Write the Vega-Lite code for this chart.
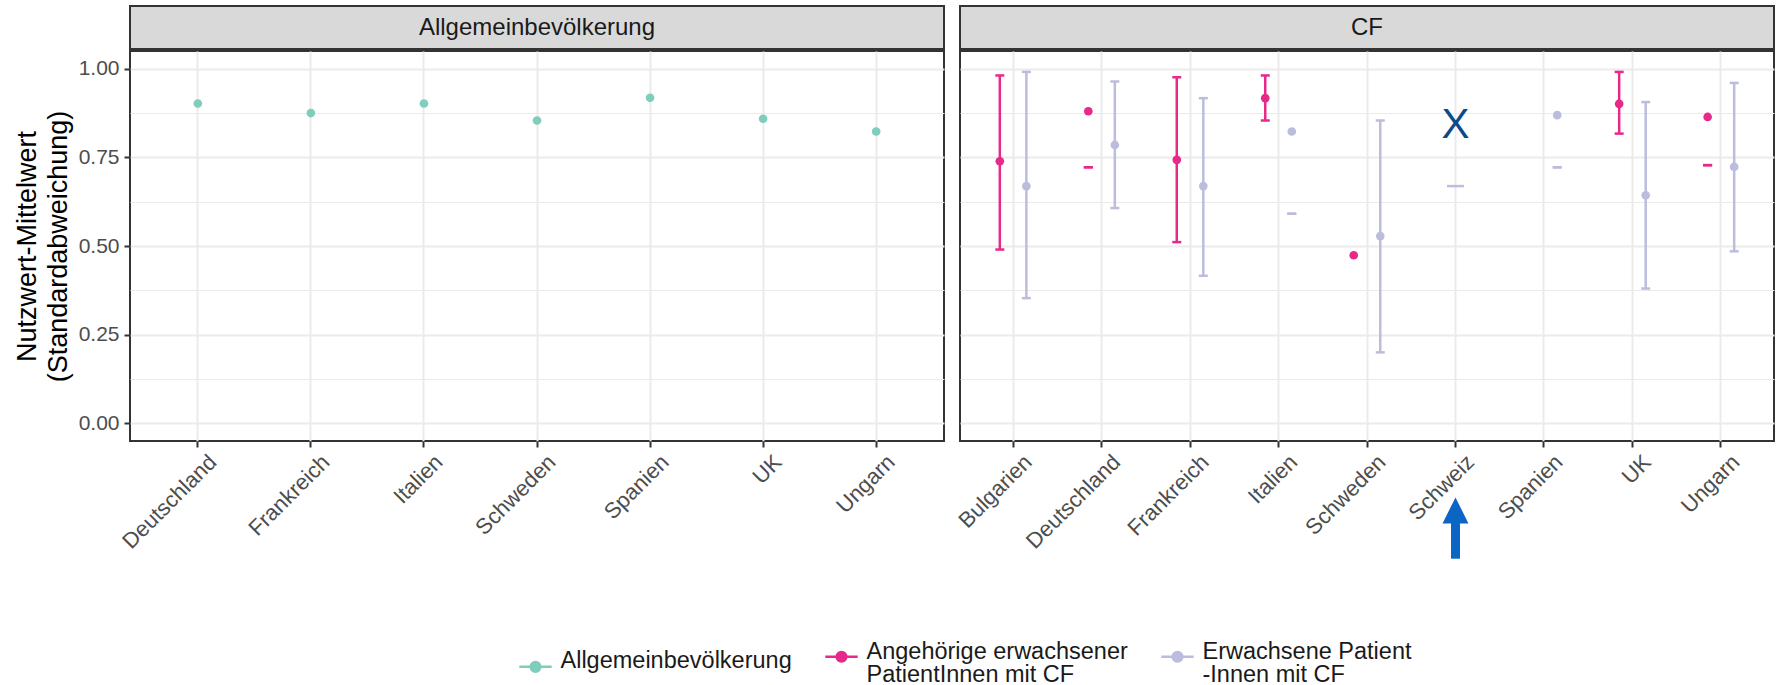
{
  "$schema": "https://vega.github.io/schema/vega-lite/v6.json",
  "padding": {"left": 12, "top": 5, "right": 5, "bottom": 2},
  "background": "white",
  "config": {
    "font": "Liberation Sans",
    "view": {"stroke": "#333333", "strokeWidth": 2},
    "axis": {"domain": false, "tickColor": "#333333", "tickWidth": 2, "tickSize": 6, "gridColor": "#ebebeb", "gridWidth": 2, "labelColor": "#4d4d4d", "labelFontSize": 21, "labelFont": "Liberation Sans"}
  },
  "datasets": {
    "werte": [
      {"panel": "Allgemeinbevölkerung", "land": "Deutschland", "gruppe": "Allgemeinbevölkerung", "mittel": 0.902},
      {"panel": "Allgemeinbevölkerung", "land": "Frankreich", "gruppe": "Allgemeinbevölkerung", "mittel": 0.875},
      {"panel": "Allgemeinbevölkerung", "land": "Italien", "gruppe": "Allgemeinbevölkerung", "mittel": 0.902},
      {"panel": "Allgemeinbevölkerung", "land": "Schweden", "gruppe": "Allgemeinbevölkerung", "mittel": 0.854},
      {"panel": "Allgemeinbevölkerung", "land": "Spanien", "gruppe": "Allgemeinbevölkerung", "mittel": 0.918},
      {"panel": "Allgemeinbevölkerung", "land": "UK", "gruppe": "Allgemeinbevölkerung", "mittel": 0.859},
      {"panel": "Allgemeinbevölkerung", "land": "Ungarn", "gruppe": "Allgemeinbevölkerung", "mittel": 0.823},
      {"panel": "CF", "land": "Bulgarien", "gruppe": "Angehörige erwachsener PatientInnen mit CF", "mittel": 0.739, "lo": 0.49, "hi": 0.981},
      {"panel": "CF", "land": "Bulgarien", "gruppe": "Erwachsene Patient-Innen mit CF", "mittel": 0.669, "lo": 0.353, "hi": 0.991},
      {"panel": "CF", "land": "Deutschland", "gruppe": "Angehörige erwachsener PatientInnen mit CF", "mittel": 0.88, "lo": 0.722, "hi": 0.722},
      {"panel": "CF", "land": "Deutschland", "gruppe": "Erwachsene Patient-Innen mit CF", "mittel": 0.785, "lo": 0.607, "hi": 0.964},
      {"panel": "CF", "land": "Frankreich", "gruppe": "Angehörige erwachsener PatientInnen mit CF", "mittel": 0.743, "lo": 0.511, "hi": 0.976},
      {"panel": "CF", "land": "Frankreich", "gruppe": "Erwachsene Patient-Innen mit CF", "mittel": 0.669, "lo": 0.416, "hi": 0.917},
      {"panel": "CF", "land": "Italien", "gruppe": "Angehörige erwachsener PatientInnen mit CF", "mittel": 0.917, "lo": 0.854, "hi": 0.981},
      {"panel": "CF", "land": "Italien", "gruppe": "Erwachsene Patient-Innen mit CF", "mittel": 0.823, "lo": 0.591, "hi": 0.591},
      {"panel": "CF", "land": "Schweden", "gruppe": "Angehörige erwachsener PatientInnen mit CF", "mittel": 0.474, "lo": null, "hi": null},
      {"panel": "CF", "land": "Schweden", "gruppe": "Erwachsene Patient-Innen mit CF", "mittel": 0.528, "lo": 0.2, "hi": 0.854},
      {"panel": "CF", "land": "Schweiz", "gruppe": "Erwachsene Patient-Innen mit CF", "mittel": null, "lo": 0.669, "hi": 0.669},
      {"panel": "CF", "land": "Spanien", "gruppe": "Angehörige erwachsener PatientInnen mit CF", "mittel": null, "lo": null, "hi": null},
      {"panel": "CF", "land": "Spanien", "gruppe": "Erwachsene Patient-Innen mit CF", "mittel": 0.869, "lo": 0.722, "hi": 0.722},
      {"panel": "CF", "land": "UK", "gruppe": "Angehörige erwachsener PatientInnen mit CF", "mittel": 0.901, "lo": 0.817, "hi": 0.991},
      {"panel": "CF", "land": "UK", "gruppe": "Erwachsene Patient-Innen mit CF", "mittel": 0.643, "lo": 0.38, "hi": 0.906},
      {"panel": "CF", "land": "Ungarn", "gruppe": "Angehörige erwachsener PatientInnen mit CF", "mittel": 0.864, "lo": 0.728, "hi": 0.728},
      {"panel": "CF", "land": "Ungarn", "gruppe": "Erwachsene Patient-Innen mit CF", "mittel": 0.723, "lo": 0.485, "hi": 0.96}
    ],
    "anmerkung": [{"panel": "CF", "land": "Schweiz", "y": 0.84, "zeichen": "X"}],
    "pfeil": [{"panel": "CF", "land": "Schweiz", "von": -0.382, "bis": -0.281, "spitze": -0.246}]
  },
  "spacing": 8,
  "hconcat": [
    {
      "spacing": 0,
      "vconcat": [
        {
          "width": 814, "height": 43,
          "view": {"fill": "#d9d9d9", "stroke": "#333333", "strokeWidth": 2},
          "data": {"values": [{"titel": "Allgemeinbevölkerung"}]},
          "mark": {"type": "text", "fontSize": 24, "color": "#1a1a1a", "baseline": "middle"},
          "encoding": {"text": {"field": "titel"}}
        },
        {
          "width": 814, "height": 390,
          "data": {"name": "werte"},
          "transform": [{"filter": "datum.panel == 'Allgemeinbevölkerung'"}],
          "mark": {"type": "point", "filled": true, "size": 75, "opacity": 1},
          "encoding": {
            "x": {"field": "land", "type": "nominal", "scale": {"type": "band", "paddingInner": 0, "paddingOuter": 0.1},
                  "axis": {"title": null, "labelAngle": -45, "labelAlign": "right", "labelBaseline": "top", "bandPosition": 0.5, "labelPadding": 4, "labelOffset": 8, "labelFontSize": 22, "grid": true}},
            "y": {"field": "mittel", "type": "quantitative", "scale": {"domain": [-0.05, 1.05], "nice": false, "zero": false},
                  "axis": {"values": [0, 0.125, 0.25, 0.375, 0.5, 0.625, 0.75, 0.875, 1],
                           "labelExpr": "abs(datum.value*4 - round(datum.value*4)) < 0.001 ? format(datum.value, '.2f') : ''",
                           "tickOpacity": {"condition": {"test": "abs(datum.value*4 - round(datum.value*4)) > 0.001", "value": 0}, "value": 1},
                           "gridWidth": {"condition": {"test": "abs(datum.value*4 - round(datum.value*4)) > 0.001", "value": 1.2}, "value": 2},
                           "title": ["Nutzwert-Mittelwert", "(Standardabweichung)"], "titleFontSize": 27, "titleColor": "#000000", "titleFontWeight": "normal", "titlePadding": 6, "titleLineHeight": 31, "labelPadding": 5}},
            "color": {"field": "gruppe", "type": "nominal",
                      "scale": {"domain": ["Allgemeinbevölkerung", "Angehörige erwachsener PatientInnen mit CF", "Erwachsene Patient-Innen mit CF"], "range": ["#7fcdbb", "#e7298a", "#bcbddc"]},
                      "legend": {"title": null, "orient": "none", "legendX": 388, "legendY": 633, "direction": "horizontal",
                                 "symbolType": "M-1,0H1M0.3,0A0.3,0.3,0,1,1,-0.3,0A0.3,0.3,0,1,1,0.3,0Z", "symbolSize": 1050, "symbolStrokeWidth": 2.5,
                                 "labelFontSize": 23.5, "labelColor": "#1a1a1a", "labelLimit": 500, "labelOffset": 7.5, "columnPadding": 28,
                                 "labelExpr": "datum.label == 'Angehörige erwachsener PatientInnen mit CF' ? ['Angehörige erwachsener', 'PatientInnen mit CF'] : datum.label == 'Erwachsene Patient-Innen mit CF' ? ['Erwachsene Patient', '-Innen mit CF'] : datum.label",
                                 "encode": {"symbols": {"update": {"stroke": {"scale": "color", "field": "value"}, "fill": {"scale": "color", "field": "value"}, "opacity": {"value": 1}}},
                                            "labels": {"update": {"dy": {"signal": "datum.label == 'Allgemeinbevölkerung' ? -6 : -4.5"}, "lineHeight": {"value": 23}}}}}}
          }
        }
      ]
    },
    {
      "spacing": 0,
      "vconcat": [
        {
          "width": 814, "height": 43,
          "view": {"fill": "#d9d9d9", "stroke": "#333333", "strokeWidth": 2},
          "data": {"values": [{"titel": "CF"}]},
          "mark": {"type": "text", "fontSize": 24, "color": "#1a1a1a", "baseline": "middle"},
          "encoding": {"text": {"field": "titel"}}
        },
        {
          "width": 814, "height": 390,
          "data": {"name": "werte"},
          "transform": [{"filter": "datum.panel == 'CF'"}, {"joinaggregate": [{"op": "count", "as": "n"}], "groupby": ["land"]}],
          "encoding": {
            "x": {"field": "land", "type": "nominal", "scale": {"type": "band", "paddingInner": 0, "paddingOuter": 0.1},
                  "axis": {"title": null, "labelAngle": -45, "labelAlign": "right", "labelBaseline": "top", "bandPosition": 0.5, "labelPadding": 4, "labelOffset": 8, "labelFontSize": 22, "grid": true}}
          },
          "layer": [
            {
              "encoding": {
                "xOffset": {"field": "gruppe", "type": "nominal", "scale": {"domain": ["Angehörige erwachsener PatientInnen mit CF", "Erwachsene Patient-Innen mit CF"], "paddingInner": 0, "paddingOuter": 0.667}},
                "color": {"field": "gruppe", "type": "nominal",
                          "scale": {"domain": ["Allgemeinbevölkerung", "Angehörige erwachsener PatientInnen mit CF", "Erwachsene Patient-Innen mit CF"], "range": ["#7fcdbb", "#e7298a", "#bcbddc"]},
                          "legend": {"title": null, "orient": "none", "legendX": 388, "legendY": 633, "direction": "horizontal",
                                     "symbolType": "M-1,0H1M0.3,0A0.3,0.3,0,1,1,-0.3,0A0.3,0.3,0,1,1,0.3,0Z", "symbolSize": 1050, "symbolStrokeWidth": 2.5,
                                     "labelFontSize": 23.5, "labelColor": "#1a1a1a", "labelLimit": 500, "labelOffset": 7.5, "columnPadding": 28,
                                     "labelExpr": "datum.label == 'Angehörige erwachsener PatientInnen mit CF' ? ['Angehörige erwachsener', 'PatientInnen mit CF'] : datum.label == 'Erwachsene Patient-Innen mit CF' ? ['Erwachsene Patient', '-Innen mit CF'] : datum.label",
                                     "encode": {"symbols": {"update": {"stroke": {"scale": "color", "field": "value"}, "fill": {"scale": "color", "field": "value"}, "opacity": {"value": 1}}},
                                                "labels": {"update": {"dy": {"signal": "datum.label == 'Allgemeinbevölkerung' ? -6 : -4.5"}, "lineHeight": {"value": 23}}}}}}
              },
              "layer": [
                {
                  "mark": {"type": "rule", "strokeWidth": 2.5},
                  "encoding": {
                    "y": {"field": "lo", "type": "quantitative", "scale": {"domain": [-0.05, 1.05], "nice": false, "zero": false},
                          "axis": {"values": [0, 0.125, 0.25, 0.375, 0.5, 0.625, 0.75, 0.875, 1], "labels": false, "ticks": false, "title": null, "minExtent": 0, "maxExtent": 0,
                                   "gridWidth": {"condition": {"test": "abs(datum.value*4 - round(datum.value*4)) > 0.001", "value": 1.2}, "value": 2}}},
                    "y2": {"field": "hi"}
                  }
                },
                {
                  "transform": [{"filter": "datum.n > 1"}],
                  "mark": {"type": "tick", "size": 9, "thickness": 2.5, "opacity": 1},
                  "encoding": {
                    "y": {"field": "lo", "type": "quantitative", "scale": {"domain": [-0.05, 1.05], "nice": false, "zero": false},
                          "axis": {"values": [0, 0.125, 0.25, 0.375, 0.5, 0.625, 0.75, 0.875, 1], "labels": false, "ticks": false, "title": null, "minExtent": 0, "maxExtent": 0,
                                   "gridWidth": {"condition": {"test": "abs(datum.value*4 - round(datum.value*4)) > 0.001", "value": 1.2}, "value": 2}}}
                  }
                },
                {
                  "transform": [{"filter": "datum.n > 1"}],
                  "mark": {"type": "tick", "size": 9, "thickness": 2.5, "opacity": 1},
                  "encoding": {
                    "y": {"field": "hi", "type": "quantitative", "scale": {"domain": [-0.05, 1.05], "nice": false, "zero": false},
                          "axis": {"values": [0, 0.125, 0.25, 0.375, 0.5, 0.625, 0.75, 0.875, 1], "labels": false, "ticks": false, "title": null, "minExtent": 0, "maxExtent": 0,
                                   "gridWidth": {"condition": {"test": "abs(datum.value*4 - round(datum.value*4)) > 0.001", "value": 1.2}, "value": 2}}}
                  }
                },
                {
                  "mark": {"type": "point", "filled": true, "size": 75, "opacity": 1},
                  "encoding": {
                    "y": {"field": "mittel", "type": "quantitative", "scale": {"domain": [-0.05, 1.05], "nice": false, "zero": false},
                          "axis": {"values": [0, 0.125, 0.25, 0.375, 0.5, 0.625, 0.75, 0.875, 1], "labels": false, "ticks": false, "title": null, "minExtent": 0, "maxExtent": 0,
                                   "gridWidth": {"condition": {"test": "abs(datum.value*4 - round(datum.value*4)) > 0.001", "value": 1.2}, "value": 2}}}
                  }
                }
              ]
            },
            {
              "transform": [{"filter": "datum.n == 1"}],
              "mark": {"type": "tick", "size": 17, "thickness": 2.5, "opacity": 1},
              "encoding": {
                "y": {"field": "lo", "type": "quantitative", "scale": {"domain": [-0.05, 1.05], "nice": false, "zero": false},
                      "axis": {"values": [0, 0.125, 0.25, 0.375, 0.5, 0.625, 0.75, 0.875, 1], "labels": false, "ticks": false, "title": null, "minExtent": 0, "maxExtent": 0,
                               "gridWidth": {"condition": {"test": "abs(datum.value*4 - round(datum.value*4)) > 0.001", "value": 1.2}, "value": 2}}},
                "color": {"field": "gruppe", "type": "nominal",
                          "scale": {"domain": ["Allgemeinbevölkerung", "Angehörige erwachsener PatientInnen mit CF", "Erwachsene Patient-Innen mit CF"], "range": ["#7fcdbb", "#e7298a", "#bcbddc"]},
                          "legend": {"title": null, "orient": "none", "legendX": 388, "legendY": 633, "direction": "horizontal",
                                     "symbolType": "M-1,0H1M0.3,0A0.3,0.3,0,1,1,-0.3,0A0.3,0.3,0,1,1,0.3,0Z", "symbolSize": 1050, "symbolStrokeWidth": 2.5,
                                     "labelFontSize": 23.5, "labelColor": "#1a1a1a", "labelLimit": 500, "labelOffset": 7.5, "columnPadding": 28,
                                     "labelExpr": "datum.label == 'Angehörige erwachsener PatientInnen mit CF' ? ['Angehörige erwachsener', 'PatientInnen mit CF'] : datum.label == 'Erwachsene Patient-Innen mit CF' ? ['Erwachsene Patient', '-Innen mit CF'] : datum.label",
                                     "encode": {"symbols": {"update": {"stroke": {"scale": "color", "field": "value"}, "fill": {"scale": "color", "field": "value"}, "opacity": {"value": 1}}},
                                                "labels": {"update": {"dy": {"signal": "datum.label == 'Allgemeinbevölkerung' ? -6 : -4.5"}, "lineHeight": {"value": 23}}}}}}
              }
            },
            {
              "data": {"name": "anmerkung"},
              "mark": {"type": "text", "fontSize": 42, "color": "#0d4a8a", "baseline": "middle"},
              "encoding": {
                "y": {"field": "y", "type": "quantitative", "scale": {"domain": [-0.05, 1.05], "nice": false, "zero": false},
                      "axis": {"values": [0, 0.125, 0.25, 0.375, 0.5, 0.625, 0.75, 0.875, 1], "labels": false, "ticks": false, "title": null, "minExtent": 0, "maxExtent": 0,
                               "gridWidth": {"condition": {"test": "abs(datum.value*4 - round(datum.value*4)) > 0.001", "value": 1.2}, "value": 2}}},
                "text": {"field": "zeichen"}
              }
            },
            {
              "data": {"name": "pfeil"},
              "mark": {"type": "rule", "strokeWidth": 9, "color": "#0a66c2"},
              "encoding": {
                "y": {"field": "von", "type": "quantitative", "scale": {"domain": [-0.05, 1.05], "nice": false, "zero": false},
                      "axis": {"values": [0, 0.125, 0.25, 0.375, 0.5, 0.625, 0.75, 0.875, 1], "labels": false, "ticks": false, "title": null, "minExtent": 0, "maxExtent": 0,
                               "gridWidth": {"condition": {"test": "abs(datum.value*4 - round(datum.value*4)) > 0.001", "value": 1.2}, "value": 2}}},
                "y2": {"field": "bis"}
              }
            },
            {
              "data": {"name": "pfeil"},
              "mark": {"type": "point", "shape": "M0,-1L1,1L-1,1Z", "filled": true, "size": 676, "color": "#0a66c2", "opacity": 1},
              "encoding": {
                "y": {"field": "spitze", "type": "quantitative", "scale": {"domain": [-0.05, 1.05], "nice": false, "zero": false},
                      "axis": {"values": [0, 0.125, 0.25, 0.375, 0.5, 0.625, 0.75, 0.875, 1], "labels": false, "ticks": false, "title": null, "minExtent": 0, "maxExtent": 0,
                               "gridWidth": {"condition": {"test": "abs(datum.value*4 - round(datum.value*4)) > 0.001", "value": 1.2}, "value": 2}}}
              }
            }
          ]
        }
      ]
    }
  ]
}
